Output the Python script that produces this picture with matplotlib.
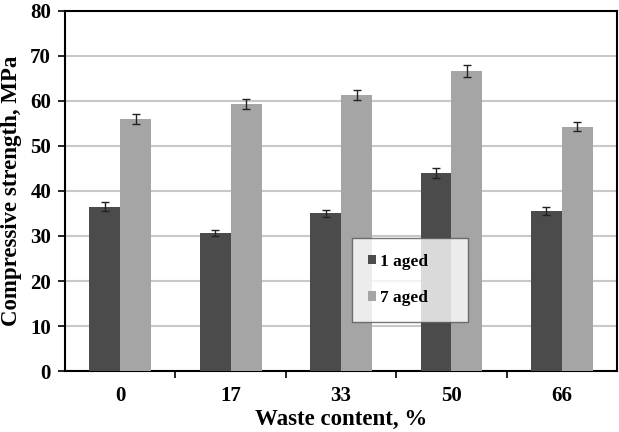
import numpy as np
import matplotlib.pyplot as plt

# Compressive strength by waste content
categories = ["0", "17", "33", "50", "66"]
aged_1 = [36.5, 30.6, 35.0, 44.0, 35.6]
aged_7 = [56.0, 59.3, 61.3, 66.6, 54.3]
err_1 = [1.0, 0.7, 0.8, 1.1, 0.9]
err_7 = [1.1, 1.2, 1.2, 1.3, 1.1]

plt.rcParams['font.family'] = ['Liberation Serif', 'DejaVu Serif']
plt.rcParams['font.weight'] = 'bold'

fig = plt.figure(figsize=(6.19, 4.32), dpi=100)
ax = fig.add_axes([0.105, 0.141, 0.892, 0.834])

x = np.arange(len(categories))
w = 0.28
ax.bar(x - w / 2, aged_1, w, color='#4b4b4b', label='1 aged', zorder=3,
       yerr=err_1, error_kw=dict(ecolor='#222222', elinewidth=1, capsize=3, capthick=1))
ax.bar(x + w / 2, aged_7, w, color='#a5a5a5', label='7 aged', zorder=3,
       yerr=err_7, error_kw=dict(ecolor='#222222', elinewidth=1, capsize=3, capthick=1))

ax.set_xlim(-0.5, len(categories) - 0.5)
ax.set_ylim(0, 80)
ax.set_yticks(range(0, 81, 10))
ax.yaxis.grid(True, color='#c8c8c8', linewidth=1.5, zorder=0)
ax.set_axisbelow(True)

# category labels centred, tick marks at group boundaries
ax.set_xticks(x)
ax.set_xticklabels(categories)
ax.tick_params(axis='x', which='major', length=0, pad=11, labelsize=15)
ax.set_xticks(np.arange(0.5, len(categories) - 0.5, 1), minor=True)
ax.tick_params(axis='x', which='minor', length=5, width=1.2, direction='out')
ax.tick_params(axis='y', length=5, width=1.2, labelsize=15, pad=5)

for s in ax.spines.values():
    s.set_linewidth(1.5)
    s.set_color('black')

ax.set_ylabel("Compressive strength, MPa", fontsize=16.5, fontweight='bold', labelpad=6)
ax.set_xlabel("Waste content, %", fontsize=16.5, fontweight='bold', labelpad=2)

leg = ax.legend(loc='lower left', bbox_to_anchor=(0.52, 0.136, 0.21, 0.228), mode='expand',
                fontsize=12.5, frameon=True, fancybox=False, edgecolor='#555555',
                labelspacing=1.2, handlelength=0.5, handleheight=0.5, handletextpad=0.2,
                borderpad=0.9, borderaxespad=0, alignment='center')
leg.get_frame().set_linewidth(1)
for t in leg.get_texts():
    t.set_fontweight('bold')

fig.savefig("out.png", dpi=100)
